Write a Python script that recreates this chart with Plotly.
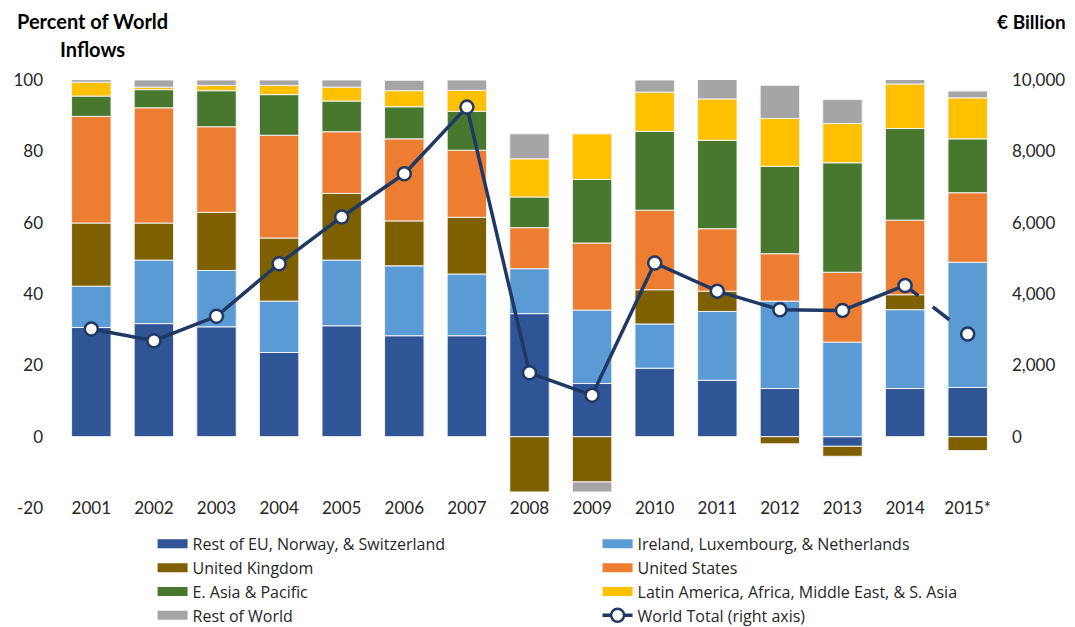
import plotly.graph_objects as go

years = ["2001", "2002", "2003", "2004", "2005", "2006", "2007", "2008",
         "2009", "2010", "2011", "2012", "2013", "2014", "2015*"]

rest_eu = [30.6, 31.7, 30.8, 23.6, 31.1, 28.3, 28.3, 34.5, 14.9, 19.2, 15.8, 13.5, -2.7, 13.5, 13.8]
ireland = [11.6, 17.8, 15.8, 14.4, 18.4, 19.6, 17.3, 12.6, 20.6, 12.4, 19.3, 24.5, 26.5, 22.1, 35.1]
uk = [17.7, 10.4, 16.3, 17.7, 18.7, 12.6, 15.9, -15.5, -12.7, 9.6, 5.7, -2.0, -2.8, 4.2, -3.9]
us = [29.9, 32.3, 24.0, 28.8, 17.3, 23.0, 18.8, 11.5, 18.8, 22.3, 17.5, 13.3, 19.6, 20.9, 19.5]
e_asia = [5.7, 5.1, 10.1, 11.4, 8.6, 9.0, 10.9, 8.6, 17.8, 22.1, 24.8, 24.5, 30.7, 25.7, 15.1]
latin = [3.9, 0.7, 1.5, 2.6, 3.9, 4.5, 5.9, 10.7, 12.8, 11.0, 11.6, 13.4, 11.0, 12.5, 11.5]
rest_world = [0.7, 2.0, 1.5, 1.5, 2.0, 2.9, 2.9, 7.0, -2.8, 3.4, 5.6, 9.3, 6.7, 1.4, 1.9]
world_total = [3020, 2690, 3375, 4850, 6160, 7370, 9240, 1790, 1160, 4870, 4080, 3560, 3540, 4240, 2880]

left_ticks = [-20, 0, 20, 40, 60, 80, 100]
left_tick_text = ["-20", "0", "20", "40", "60", "80", "100"]
right_ticks = [0, 2000, 4000, 6000, 8000, 10000]
right_tick_text = ["0", "2,000", "4,000", "6,000", "8,000", "10,000"]

series = [
    ("Rest of EU, Norway, & Switzerland", rest_eu, "#2F5597"),
    ("Ireland, Luxembourg, & Netherlands", ireland, "#5B9BD5"),
    ("United Kingdom", uk, "#7F6000"),
    ("United States", us, "#ED7D31"),
    ("E. Asia & Pacific", e_asia, "#47782E"),
    ("Latin America, Africa, Middle East, & S. Asia", latin, "#FFC000"),
    ("Rest of World", rest_world, "#A5A5A5"),
]

FONT = "Lato"
LEG_FONT = "Open Sans"
NAVY = "#1F3864"
TXT = "#262626"

# page body has an 8px margin: figure coords = window coords - 8
OFF = 8
W, H = 1067, 619
ML, MR, MT, MB = 52, 76, 72, 119
PW, PH = W - ML - MR, H - MT - MB


def px_x(px):
    return (px - OFF - ML) / PW


def px_y(py):
    return (H - MB - (py - OFF)) / PH


fig = go.Figure()
for name, vals, col in series:
    fig.add_trace(go.Bar(
        x=years, y=vals, name=name, showlegend=False,
        marker=dict(color=col, line=dict(color="#F2F2F2", width=1)),
        yaxis="y",
    ))

# legend swatches (flat bars, like the reference)
for i, (name, vals, col) in enumerate(series):
    fig.add_trace(go.Scatter(
        x=[None], y=[None], mode="lines", name=name, legendrank=i + 1,
        line=dict(color=col, width=9), yaxis="y", hoverinfo="skip",
    ))

# dashed estimate segment (2014 -> 2015*)
fig.add_trace(go.Scatter(
    x=years[-2:], y=world_total[-2:], mode="lines", yaxis="y2",
    line=dict(color=NAVY, width=3.5, dash="17px,18px,21px,40px"), showlegend=False,
))
fig.add_trace(go.Scatter(
    x=years[:-1], y=world_total[:-1], mode="lines+markers", yaxis="y2",
    name="World Total (right axis)", legendrank=8,
    line=dict(color=NAVY, width=3.5),
    marker=dict(symbol="circle", size=13, color="white", line=dict(color=NAVY, width=2.5)),
))
fig.add_trace(go.Scatter(
    x=years[-1:], y=world_total[-1:], mode="markers", yaxis="y2", showlegend=False,
    marker=dict(symbol="circle", size=13, color="white", line=dict(color=NAVY, width=2.5)),
))

fig.update_layout(
    width=W, height=H,
    margin=dict(l=ML, r=MR, t=MT, b=MB, autoexpand=False),
    paper_bgcolor="white", plot_bgcolor="white",
    barmode="relative", bargap=0.37,
    font=dict(family=FONT, size=17, color=TXT),
    xaxis=dict(type="category", range=[-0.5, len(years) - 0.5],
               showgrid=False, showline=False, zeroline=False,
               ticks="", tickfont=dict(size=17, color=TXT), automargin=False,
               ticklabelstandoff=-12),
    yaxis=dict(range=[-20, 100], tickvals=left_ticks, ticktext=left_tick_text,
               showgrid=False, zeroline=False, showline=False, ticks="",
               automargin=False,
               tickfont=dict(size=17, color=TXT), ticklabelstandoff=16),
    yaxis2=dict(range=[-2000, 10000], tickvals=right_ticks, ticktext=right_tick_text,
                overlaying="y", side="right", showgrid=False, zeroline=False,
                showline=False, ticks="", automargin=False,
                tickfont=dict(size=17, color=TXT), ticklabelstandoff=12),
    legend=dict(orientation="h", xref="container", yref="container",
                x=0.1355, y=0.1616, xanchor="left", yanchor="top",
                entrywidth=400, font=dict(family=LEG_FONT, size=16, color=TXT),
                traceorder="normal", tracegroupgap=0, itemwidth=30),
    showlegend=True,
    annotations=[
        dict(text="<b>Percent of World</b>", xref="paper", yref="paper",
             x=px_x(92), y=px_y(21), xanchor="center", yanchor="middle",
             showarrow=False, font=dict(size=20, color="black")),
        dict(text="<b>Inflows</b>", xref="paper", yref="paper",
             x=px_x(92), y=px_y(49), xanchor="center", yanchor="middle",
             showarrow=False, font=dict(size=20, color="black")),
        dict(text="<b>€ Billion</b>", xref="paper", yref="paper",
             x=px_x(1031), y=px_y(22), xanchor="center", yanchor="middle",
             showarrow=False, font=dict(size=19, color="black")),
    ],
)

fig.write_html("out.html")
